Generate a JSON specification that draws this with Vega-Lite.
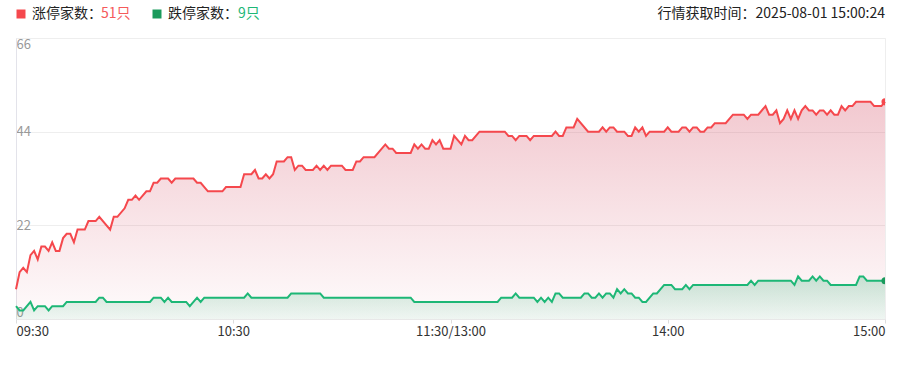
{
  "$schema": "https://vega.github.io/schema/vega-lite/v6.json",
  "width": 869,
  "height": 281,
  "autosize": {"type": "none"},
  "padding": {"left": 16, "top": 38, "right": 18, "bottom": 49},
  "background": "white",
  "config": {
    "font": "Noto Sans CJK SC",
    "view": {"stroke": "#eeeeee"}
  },
  "title": {
    "text": "行情获取时间：2025-08-01 15:00:24",
    "anchor": "end",
    "frame": "group",
    "fontSize": 14,
    "fontWeight": "normal",
    "color": "#222222",
    "offset": -14
  },
  "data": {
    "values": [
      {"m":0,"v":7,"s":"涨停"},{"m":1,"v":11,"s":"涨停"},{"m":2,"v":12,"s":"涨停"},{"m":3,"v":11,"s":"涨停"},{"m":4,"v":15,"s":"涨停"},{"m":5,"v":16,"s":"涨停"},{"m":6,"v":14,"s":"涨停"},{"m":7,"v":17,"s":"涨停"},{"m":8,"v":17,"s":"涨停"},{"m":9,"v":16,"s":"涨停"},{"m":10,"v":18,"s":"涨停"},{"m":11,"v":16,"s":"涨停"},{"m":12,"v":16,"s":"涨停"},{"m":13,"v":19,"s":"涨停"},{"m":14,"v":20,"s":"涨停"},{"m":15,"v":20,"s":"涨停"},{"m":16,"v":18,"s":"涨停"},{"m":17,"v":21,"s":"涨停"},{"m":19,"v":21,"s":"涨停"},{"m":20,"v":23,"s":"涨停"},{"m":22,"v":23,"s":"涨停"},{"m":23,"v":24,"s":"涨停"},{"m":26,"v":21,"s":"涨停"},{"m":27,"v":24,"s":"涨停"},{"m":28,"v":24,"s":"涨停"},{"m":30,"v":26,"s":"涨停"},{"m":31,"v":28,"s":"涨停"},{"m":32,"v":28,"s":"涨停"},{"m":33,"v":29,"s":"涨停"},{"m":34,"v":28,"s":"涨停"},{"m":36,"v":30,"s":"涨停"},{"m":37,"v":30,"s":"涨停"},{"m":38,"v":32,"s":"涨停"},{"m":39,"v":32,"s":"涨停"},{"m":40,"v":33,"s":"涨停"},{"m":42,"v":33,"s":"涨停"},{"m":43,"v":32,"s":"涨停"},{"m":44,"v":33,"s":"涨停"},{"m":49,"v":33,"s":"涨停"},{"m":50,"v":32,"s":"涨停"},{"m":51,"v":32,"s":"涨停"},{"m":53,"v":30,"s":"涨停"},{"m":57,"v":30,"s":"涨停"},{"m":58,"v":31,"s":"涨停"},{"m":62,"v":31,"s":"涨停"},{"m":63,"v":34,"s":"涨停"},{"m":65,"v":34,"s":"涨停"},{"m":66,"v":35,"s":"涨停"},{"m":67,"v":33,"s":"涨停"},{"m":68,"v":33,"s":"涨停"},{"m":69,"v":34,"s":"涨停"},{"m":70,"v":33,"s":"涨停"},{"m":71,"v":34,"s":"涨停"},{"m":72,"v":37,"s":"涨停"},{"m":74,"v":37,"s":"涨停"},{"m":75,"v":38,"s":"涨停"},{"m":76,"v":38,"s":"涨停"},{"m":77,"v":35,"s":"涨停"},{"m":78,"v":36,"s":"涨停"},{"m":79,"v":36,"s":"涨停"},{"m":80,"v":35,"s":"涨停"},{"m":82,"v":35,"s":"涨停"},{"m":83,"v":36,"s":"涨停"},{"m":84,"v":35,"s":"涨停"},{"m":85,"v":36,"s":"涨停"},{"m":86,"v":35,"s":"涨停"},{"m":87,"v":36,"s":"涨停"},{"m":90,"v":36,"s":"涨停"},{"m":91,"v":35,"s":"涨停"},{"m":93,"v":35,"s":"涨停"},{"m":94,"v":37,"s":"涨停"},{"m":95,"v":37,"s":"涨停"},{"m":96,"v":38,"s":"涨停"},{"m":99,"v":38,"s":"涨停"},{"m":102,"v":41,"s":"涨停"},{"m":103,"v":40,"s":"涨停"},{"m":104,"v":40,"s":"涨停"},{"m":105,"v":39,"s":"涨停"},{"m":109,"v":39,"s":"涨停"},{"m":110,"v":41,"s":"涨停"},{"m":111,"v":40,"s":"涨停"},{"m":112,"v":41,"s":"涨停"},{"m":113,"v":40,"s":"涨停"},{"m":114,"v":40,"s":"涨停"},{"m":115,"v":42,"s":"涨停"},{"m":116,"v":41,"s":"涨停"},{"m":117,"v":42,"s":"涨停"},{"m":118,"v":40,"s":"涨停"},{"m":120,"v":40,"s":"涨停"},{"m":121,"v":43,"s":"涨停"},{"m":122,"v":42,"s":"涨停"},{"m":123,"v":41,"s":"涨停"},{"m":124,"v":43,"s":"涨停"},{"m":125,"v":42,"s":"涨停"},{"m":126,"v":42,"s":"涨停"},{"m":128,"v":44,"s":"涨停"},{"m":135,"v":44,"s":"涨停"},{"m":136,"v":43,"s":"涨停"},{"m":137,"v":43,"s":"涨停"},{"m":138,"v":42,"s":"涨停"},{"m":139,"v":43,"s":"涨停"},{"m":141,"v":43,"s":"涨停"},{"m":142,"v":42,"s":"涨停"},{"m":143,"v":43,"s":"涨停"},{"m":148,"v":43,"s":"涨停"},{"m":149,"v":44,"s":"涨停"},{"m":150,"v":43,"s":"涨停"},{"m":151,"v":43,"s":"涨停"},{"m":152,"v":45,"s":"涨停"},{"m":154,"v":45,"s":"涨停"},{"m":155,"v":47,"s":"涨停"},{"m":158,"v":44,"s":"涨停"},{"m":161,"v":44,"s":"涨停"},{"m":162,"v":45,"s":"涨停"},{"m":163,"v":44,"s":"涨停"},{"m":164,"v":45,"s":"涨停"},{"m":165,"v":45,"s":"涨停"},{"m":166,"v":44,"s":"涨停"},{"m":168,"v":44,"s":"涨停"},{"m":169,"v":43,"s":"涨停"},{"m":170,"v":43,"s":"涨停"},{"m":171,"v":45,"s":"涨停"},{"m":172,"v":44,"s":"涨停"},{"m":173,"v":45,"s":"涨停"},{"m":174,"v":43,"s":"涨停"},{"m":175,"v":44,"s":"涨停"},{"m":179,"v":44,"s":"涨停"},{"m":180,"v":45,"s":"涨停"},{"m":181,"v":44,"s":"涨停"},{"m":183,"v":44,"s":"涨停"},{"m":184,"v":45,"s":"涨停"},{"m":185,"v":45,"s":"涨停"},{"m":186,"v":44,"s":"涨停"},{"m":187,"v":45,"s":"涨停"},{"m":188,"v":45,"s":"涨停"},{"m":189,"v":44,"s":"涨停"},{"m":190,"v":44,"s":"涨停"},{"m":191,"v":45,"s":"涨停"},{"m":192,"v":45,"s":"涨停"},{"m":193,"v":46,"s":"涨停"},{"m":196,"v":46,"s":"涨停"},{"m":198,"v":48,"s":"涨停"},{"m":201,"v":48,"s":"涨停"},{"m":202,"v":47,"s":"涨停"},{"m":203,"v":48,"s":"涨停"},{"m":205,"v":48,"s":"涨停"},{"m":207,"v":50,"s":"涨停"},{"m":208,"v":48,"s":"涨停"},{"m":209,"v":48,"s":"涨停"},{"m":210,"v":49,"s":"涨停"},{"m":211,"v":46,"s":"涨停"},{"m":212,"v":47,"s":"涨停"},{"m":213,"v":49,"s":"涨停"},{"m":214,"v":47,"s":"涨停"},{"m":215,"v":49,"s":"涨停"},{"m":216,"v":47,"s":"涨停"},{"m":217,"v":49,"s":"涨停"},{"m":218,"v":50,"s":"涨停"},{"m":219,"v":49,"s":"涨停"},{"m":220,"v":49,"s":"涨停"},{"m":221,"v":48,"s":"涨停"},{"m":222,"v":49,"s":"涨停"},{"m":223,"v":49,"s":"涨停"},{"m":224,"v":48,"s":"涨停"},{"m":225,"v":49,"s":"涨停"},{"m":226,"v":48,"s":"涨停"},{"m":227,"v":48,"s":"涨停"},{"m":228,"v":50,"s":"涨停"},{"m":229,"v":49,"s":"涨停"},{"m":230,"v":50,"s":"涨停"},{"m":231,"v":50,"s":"涨停"},{"m":232,"v":51,"s":"涨停"},{"m":236,"v":51,"s":"涨停"},{"m":237,"v":50,"s":"涨停"},{"m":239,"v":50,"s":"涨停"},{"m":240,"v":51,"s":"涨停"},
      {"m":0,"v":3,"s":"跌停"},{"m":1,"v":2,"s":"跌停"},{"m":2,"v":2,"s":"跌停"},{"m":4,"v":4,"s":"跌停"},{"m":5,"v":2,"s":"跌停"},{"m":6,"v":3,"s":"跌停"},{"m":8,"v":3,"s":"跌停"},{"m":9,"v":2,"s":"跌停"},{"m":10,"v":3,"s":"跌停"},{"m":13,"v":3,"s":"跌停"},{"m":14,"v":4,"s":"跌停"},{"m":22,"v":4,"s":"跌停"},{"m":23,"v":5,"s":"跌停"},{"m":24,"v":5,"s":"跌停"},{"m":25,"v":4,"s":"跌停"},{"m":37,"v":4,"s":"跌停"},{"m":38,"v":5,"s":"跌停"},{"m":40,"v":5,"s":"跌停"},{"m":41,"v":4,"s":"跌停"},{"m":42,"v":5,"s":"跌停"},{"m":43,"v":4,"s":"跌停"},{"m":47,"v":4,"s":"跌停"},{"m":48,"v":3,"s":"跌停"},{"m":50,"v":5,"s":"跌停"},{"m":51,"v":4,"s":"跌停"},{"m":52,"v":5,"s":"跌停"},{"m":63,"v":5,"s":"跌停"},{"m":64,"v":6,"s":"跌停"},{"m":65,"v":5,"s":"跌停"},{"m":75,"v":5,"s":"跌停"},{"m":76,"v":6,"s":"跌停"},{"m":84,"v":6,"s":"跌停"},{"m":85,"v":5,"s":"跌停"},{"m":109,"v":5,"s":"跌停"},{"m":110,"v":4,"s":"跌停"},{"m":133,"v":4,"s":"跌停"},{"m":134,"v":5,"s":"跌停"},{"m":137,"v":5,"s":"跌停"},{"m":138,"v":6,"s":"跌停"},{"m":139,"v":5,"s":"跌停"},{"m":143,"v":5,"s":"跌停"},{"m":144,"v":4,"s":"跌停"},{"m":145,"v":5,"s":"跌停"},{"m":146,"v":4,"s":"跌停"},{"m":147,"v":5,"s":"跌停"},{"m":148,"v":4,"s":"跌停"},{"m":149,"v":6,"s":"跌停"},{"m":150,"v":6,"s":"跌停"},{"m":151,"v":5,"s":"跌停"},{"m":156,"v":5,"s":"跌停"},{"m":157,"v":6,"s":"跌停"},{"m":158,"v":6,"s":"跌停"},{"m":159,"v":5,"s":"跌停"},{"m":160,"v":5,"s":"跌停"},{"m":161,"v":6,"s":"跌停"},{"m":162,"v":5,"s":"跌停"},{"m":163,"v":6,"s":"跌停"},{"m":164,"v":6,"s":"跌停"},{"m":165,"v":5,"s":"跌停"},{"m":166,"v":7,"s":"跌停"},{"m":167,"v":6,"s":"跌停"},{"m":168,"v":7,"s":"跌停"},{"m":169,"v":6,"s":"跌停"},{"m":170,"v":6,"s":"跌停"},{"m":171,"v":5,"s":"跌停"},{"m":172,"v":5,"s":"跌停"},{"m":173,"v":4,"s":"跌停"},{"m":174,"v":4,"s":"跌停"},{"m":175,"v":5,"s":"跌停"},{"m":176,"v":6,"s":"跌停"},{"m":177,"v":6,"s":"跌停"},{"m":179,"v":8,"s":"跌停"},{"m":181,"v":8,"s":"跌停"},{"m":182,"v":7,"s":"跌停"},{"m":184,"v":7,"s":"跌停"},{"m":185,"v":8,"s":"跌停"},{"m":186,"v":7,"s":"跌停"},{"m":187,"v":8,"s":"跌停"},{"m":202,"v":8,"s":"跌停"},{"m":203,"v":9,"s":"跌停"},{"m":204,"v":8,"s":"跌停"},{"m":205,"v":9,"s":"跌停"},{"m":214,"v":9,"s":"跌停"},{"m":215,"v":8,"s":"跌停"},{"m":216,"v":10,"s":"跌停"},{"m":217,"v":9,"s":"跌停"},{"m":219,"v":9,"s":"跌停"},{"m":220,"v":10,"s":"跌停"},{"m":221,"v":9,"s":"跌停"},{"m":222,"v":10,"s":"跌停"},{"m":223,"v":9,"s":"跌停"},{"m":224,"v":9,"s":"跌停"},{"m":225,"v":8,"s":"跌停"},{"m":232,"v":8,"s":"跌停"},{"m":233,"v":10,"s":"跌停"},{"m":234,"v":10,"s":"跌停"},{"m":235,"v":9,"s":"跌停"},{"m":240,"v":9,"s":"跌停"}
    ]
  },
  "encoding": {
    "x": {
      "field": "m",
      "type": "quantitative",
      "scale": {"domain": [0, 240], "nice": false, "zero": false},
      "axis": {
        "values": [0, 60, 120, 180, 240],
        "labelExpr": "datum.value == 0 ? '09:30' : datum.value == 60 ? '10:30' : datum.value == 120 ? '11:30/13:00' : datum.value == 180 ? '14:00' : '15:00'",
        "title": null,
        "grid": false,
        "tickSize": 4,
        "tickColor": "#dddddd",
        "domainColor": "#e8e8e8",
        "labelColor": "#333333",
        "labelFontSize": 13,
        "labelFlush": true,
        "labelPadding": 2
      }
    },
    "y": {
      "field": "v",
      "type": "quantitative",
      "scale": {"domain": [0, 66], "nice": false},
      "axis": {
        "values": [0, 22, 44, 66],
        "title": null,
        "ticks": false,
        "tickSize": 0,
        "labelAlign": "left",
        "labelPadding": 0,
        "labelFlush": true,
        "labelColor": "#999999",
        "labelFontSize": 13,
        "domainColor": "#e3e3ea",
        "gridColor": "#eeeeee"
      }
    }
  },
  "layer": [
    {
      "transform": [{"filter": "datum.s == '涨停'"}],
      "mark": {
        "type": "area",
        "color": {
          "gradient": "linear", "x1": 0, "y1": 0, "x2": 0, "y2": 1,
          "stops": [{"offset": 0, "color": "rgba(212,75,98,0.3)"}, {"offset": 1, "color": "rgba(212,75,98,0.02)"}]
        }
      }
    },
    {
      "transform": [{"filter": "datum.s == '跌停'"}],
      "mark": {
        "type": "area",
        "color": {
          "gradient": "linear", "x1": 0, "y1": 0, "x2": 0, "y2": 1,
          "stops": [{"offset": 0, "color": "rgba(40,170,110,0.25)"}, {"offset": 1, "color": "rgba(40,170,110,0.07)"}]
        }
      }
    },
    {
      "mark": {"type": "line", "strokeWidth": 2},
      "encoding": {
        "stroke": {
          "field": "s", "type": "nominal",
          "scale": {"range": ["#f5484d", "#1db776"]},
          "legend": null
        }
      }
    },
    {
      "transform": [{"filter": "datum.m == 240"}],
      "mark": {"type": "point", "filled": true, "size": 50, "opacity": 1, "clip": true},
      "encoding": {
        "fill": {
          "field": "s", "type": "nominal",
          "scale": {"range": ["#f5484d", "#1a9a5c"]},
          "legend": {
            "orient": "none", "legendX": -2, "legendY": -31,
            "direction": "horizontal",
            "title": null,
            "symbolType": "square",
            "symbolSize": 81,
            "symbolStrokeWidth": 0,
            "labelExpr": "datum.label + '家数：'",
            "labelFontSize": 14,
            "labelColor": "#222222",
            "labelOffset": 4,
            "columnPadding": 48,
            "padding": 0,
            "encode": {
              "symbols": {"size": {"value": 81}, "fill": {"value": {"expr": "datum.value == '涨停' ? '#f04848' : '#1db37a'"}}}
            }
          }
        },
        "shape": {
          "field": "v", "type": "nominal",
          "sort": "descending",
          "scale": {"range": ["circle", "circle"]},
          "legend": {
            "orient": "none", "legendX": 71, "legendY": -31,
            "direction": "horizontal",
            "title": null,
            "symbolOpacity": 0,
            "symbolStrokeWidth": 0,
            "labelExpr": "datum.label + '只'",
            "labelFontSize": 14,
            "labelColor": {"expr": "datum.value == 51 ? '#f55a5a' : '#1db776'"},
            "labelOffset": 0,
            "columnPadding": 93,
            "padding": 0,
            "encode": {
              "labels": {
                "fill": {"value": {"expr": "datum.value == 51 ? '#f55a5a' : '#1db776'"}}
              }
            }
          }
        }
      }
    }
  ]
}
